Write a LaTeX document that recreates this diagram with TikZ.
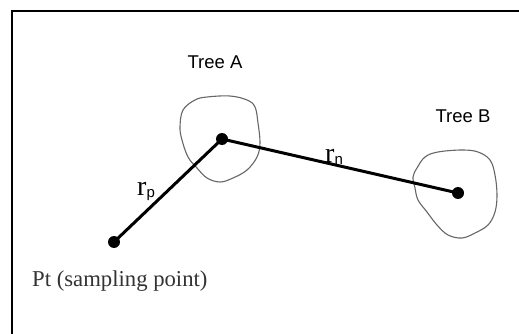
\documentclass[tikz,border=0pt]{standalone}
\usepackage{fontspec}
\setmainfont{Liberation Serif}
\setsansfont{Liberation Sans}
\usetikzlibrary{positioning}

\newcommand{\rdist}[1]{r\raisebox{-2pt}{\fontsize{15}{15}\sffamily #1}}

\begin{document}
\begin{tikzpicture}[
		x=1pt, y=-1pt,
		dot/.style={circle, fill=black, inner sep=0pt, minimum size=12pt},
		link/.style={line width=3pt},
		crown/.style={draw=black!60, line width=1.1pt},
		treelbl/.style={font=\sffamily\fontsize{18.5}{20}\selectfont, inner sep=0pt},
		rlbl/.style={font=\fontsize{28}{30}\selectfont, inner sep=0pt},
		ptlbl/.style={font=\fontsize{22.7}{25}\selectfont, text=black!80, inner sep=0pt}
		]
		\useasboundingbox (0,0) rectangle (519,334);
		\draw[line width=2pt] (12,334) -- (12,11) -- (519,11);
		% tree crowns
		\draw[crown] plot[smooth cycle, tension=0.6] coordinates {(183,110) (195,100) (207,97) (230,96) (247,100) (255,107) (258,123) (260,143) (257,157) (247,170) (233,178) (220,182) (207,178) (197,168) (188,157) (182,140) (180,127)};
		\draw[crown] plot[smooth cycle, tension=0.6] coordinates {(417,168) (425,157) (438,152) (462,150) (478,152) (490,160) (495,175) (497,195) (495,212) (488,225) (475,233) (462,238) (448,235) (437,225) (427,212) (418,200) (415,188) (413,177)};
		\node[dot] (treeA) at (222,139) {};
		\node[dot] (treeB) at (458,193) {};
		\node[dot] (pt) at (114,242) {};
		\node[treelbl, anchor=base] (lblA) at (215,69) {Tree A};
		\node[treelbl, anchor=base] (lblB) at (463,122) {Tree B};
		\node[ptlbl, anchor=base west] (lblPt) at (32,286) {Pt (sampling point)};
		\foreach \a/\b in {pt/treeA, treeA/treeB}
		\draw[link] (\a.center)--(\b.center);
		\node[rlbl, anchor=base west] (rn) at (325,162) {\rdist{n}};
		\node[rlbl, anchor=base west] (rp) at (137,195) {\rdist{p}};
	\end{tikzpicture}
\end{document}
